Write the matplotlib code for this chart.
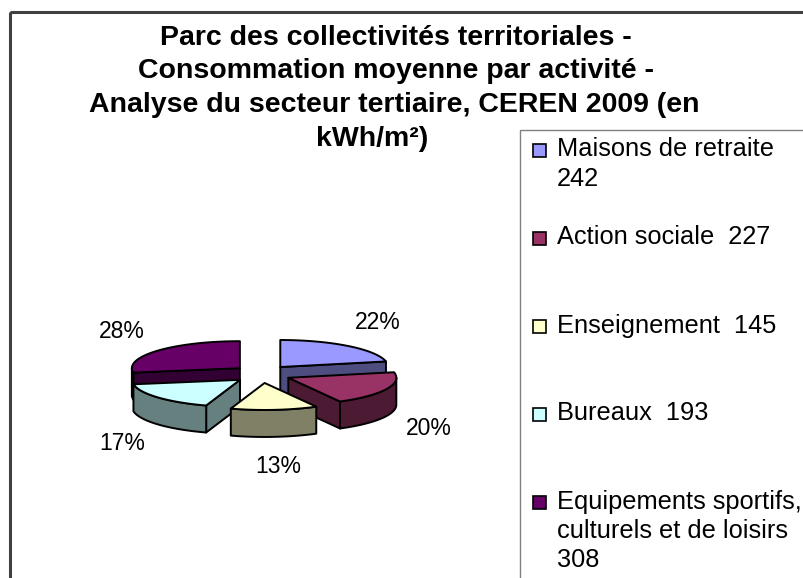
import numpy as np
import matplotlib
matplotlib.use("Agg")
import matplotlib.pyplot as plt
from matplotlib.patches import Polygon, Rectangle
from matplotlib import font_manager

# ---------------- data ----------------
categories = ["Maisons de retraite", "Action sociale", "Enseignement", "Bureaux",
              "Equipements sportifs, culturels et de loisirs"]
values = [242, 227, 145, 193, 308]
legend_labels = ["Maisons de retraite\n242", "Action sociale  227", "Enseignement  145",
                 "Bureaux  193", "Equipements sportifs,\nculturels et de loisirs\n308"]
top_colors = ["#9999FF", "#993366", "#FFFFCC", "#CCFFFF", "#660066"]
title_lines = ["Parc des collectivités territoriales -",
               "Consommation moyenne par activité -",
               "Analyse du secteur tertiaire, CEREN 2009 (en",
               "kWh/m²)"]

# ---------------- fonts ----------------
available = {f.name for f in font_manager.fontManager.ttflist}
BASE = "Liberation Sans" if "Liberation Sans" in available else "DejaVu Sans"
TITLE_FONT = BASE
TITLE_SIZE = 20.5

# ---------------- figure ----------------
W, H = 804, 578
fig = plt.figure(figsize=(W / 100, H / 100), dpi=100)
ax = fig.add_axes([0, 0, 1, 1])
ax.set_xlim(0, W)
ax.set_ylim(H, 0)
ax.axis("off")

# chart frame and legend frame (extend past the image)
ax.add_patch(Rectangle((10, 12), 1000, 1000, fill=False, edgecolor="#404040", lw=2.2, zorder=1))
ax.add_patch(Rectangle((520, 130), 1000, 1000, fill=False, edgecolor="#808080", lw=1.0, zorder=1))

# title
title_x = [396, 396, 394, 372]
for i, (line, tx) in enumerate(zip(title_lines, title_x)):
    ax.text(tx, 38 + i * 33.5, line, ha="center", va="center", fontsize=TITLE_SIZE,
            fontweight="bold", family=[TITLE_FONT, "DejaVu Sans"], zorder=5)

# ---------------- 3D exploded pie ----------------
CX, CY = 262, 374      # pie centre (pixels)
A, B = 108, 27         # ellipse semi-axes
DEPTH = 27             # thickness
EXX, EXY = 29, 9       # explosion offsets
LX, LY = 47, 30        # label offsets beyond rim


def shade(hexcol, f=0.5):
    c = np.array(matplotlib.colors.to_rgb(hexcol))
    return tuple(c * f)


total = float(sum(values))
cum = np.concatenate([[0], np.cumsum(values)]) / total
slices = []
for i, v in enumerate(values):
    th2 = 90 - 360 * cum[i]
    th1 = 90 - 360 * cum[i + 1]
    mid = np.radians((th1 + th2) / 2)
    scx = CX + EXX * np.cos(mid)
    scy = CY - EXY * np.sin(mid)
    slices.append((i, th1, th2, mid, scx, scy))


def rim(cx, cy, phis, dz=0):
    p = np.radians(phis)
    return np.column_stack([cx + A * np.cos(p), cy - B * np.sin(p) + dz])


order = sorted(slices, key=lambda s: -np.sin(s[3]))
z = 2
for (i, th1, th2, mid, scx, scy) in order:
    top = top_colors[i]
    side = shade(top)
    kw = dict(edgecolor="black", lw=1.4, joinstyle="round")
    # radial cut faces
    for phi, normal in ((th1, th1 - 90), (th2, th2 + 90)):
        if np.sin(np.radians(normal)) < -1e-6:
            r = rim(scx, scy, [phi])[0]
            quad = [(scx, scy), tuple(r), (r[0], r[1] + DEPTH), (scx, scy + DEPTH)]
            ax.add_patch(Polygon(quad, closed=True, facecolor=side, zorder=z, **kw))
    # outer curved wall (front half only)
    for k in (-1, 0, 1):
        lo = max(th1, -180 + 360 * k)
        hi = min(th2, 0 + 360 * k)
        if hi > lo:
            ph = np.linspace(lo, hi, 60)
            upper = rim(scx, scy, ph)
            lower = rim(scx, scy, ph[::-1], DEPTH)
            ax.add_patch(Polygon(np.vstack([upper, lower]), closed=True,
                                 facecolor=side, zorder=z, **kw))
    # top face
    ph = np.linspace(th1, th2, 120)
    pts = np.vstack([[scx, scy], rim(scx, scy, ph)])
    ax.add_patch(Polygon(pts, closed=True, facecolor=top, zorder=z + 0.5, **kw))
    z += 1

# percentage labels
for (i, th1, th2, mid, scx, scy) in slices:
    lx = scx + (A + LX) * np.cos(mid)
    ly = scy - (B + LY) * np.sin(mid) + (DEPTH if np.sin(mid) < 0 else 0)
    pct = "%d%%" % round(100 * values[i] / total)
    ax.text(lx, ly, pct, ha="center", va="center", fontsize=16.5, family=BASE, zorder=20)

# ---------------- legend ----------------
LEG_X, LEG_Y0, LEG_DY = 540, 150, 88
for i, lab in enumerate(legend_labels):
    y = LEG_Y0 + i * LEG_DY
    ax.add_patch(Rectangle((LEG_X - 6.5, y - 6.5), 13, 13, facecolor=top_colors[i],
                           edgecolor="black", lw=1.2, zorder=6))
    ax.text(557, y - 12.5, lab, ha="left", va="top", fontsize=18.3, family=BASE,
            linespacing=1.27, zorder=6)

fig.savefig("out.png", dpi=100)
